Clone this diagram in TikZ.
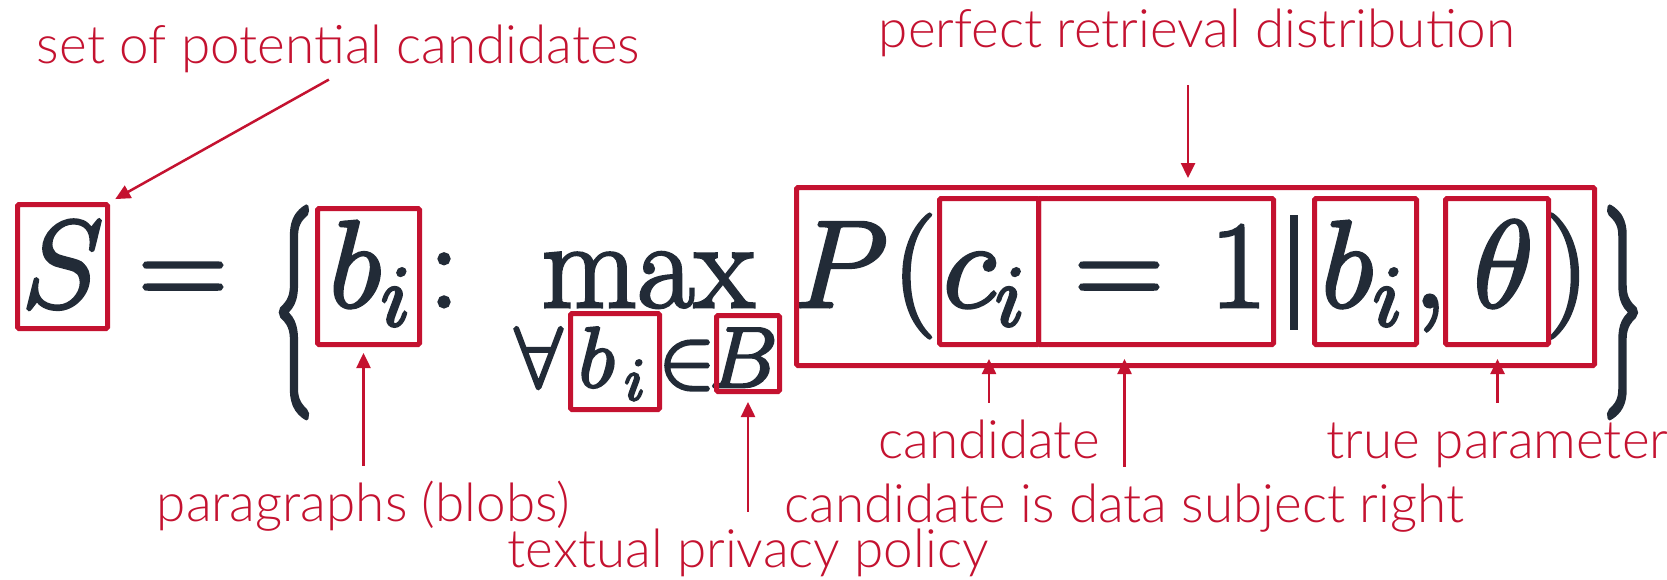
\RequirePackage{fix-cm}
\documentclass[tikz,border=0pt]{standalone}
\usepackage{graphicx}
\usepackage{fontspec}
\usepackage{tikz}
\usetikzlibrary{arrows.meta}
\usepackage{xcolor}
\newfontfamily\lblfont[UprightFont=* Light]{Lato}
\definecolor{hlred}{HTML}{C41230}
\definecolor{ink}{HTML}{222B37}
% stroke the glyphs too, so they look as heavy as in the slide
\newcommand\heavy[2][3]{\special{pdf:code 2 Tr #1 w}#2\special{pdf:code 0 Tr}}

\begin{document}
\begin{tikzpicture}[
  x=1pt, y=-1pt,
  mth/.style={text=ink, inner sep=0pt, anchor=base, font=\fontsize{124}{124}\selectfont},
  smth/.style={mth, font=\fontsize{86}{86}\selectfont},
  hl/.style={draw=hlred, line width=5pt, rounded corners=1.5pt, inner sep=0pt},
  lbl/.style={text=hlred, inner sep=0pt, anchor=base, text height=37pt, text depth=11pt,
    font=\lblfont\fontsize{53}{53}\selectfont},
  arr/.style={draw=hlred, line width=2.5pt, -{Triangle[width=14pt,length=15pt]}},
  up/.style={arr, shorten <=18pt}
]
  \useasboundingbox (0,0) rectangle (1667,579);

  % the formula
  \node[mth] (S) at (62.5,307) {\heavy{$S$}};
  \node[mth] (eqA) at (183,307) {\heavy{$=$}};
  \node[text=ink, inner sep=0pt] (lbrace) at (294,312.5) {\heavy[0.4]{\resizebox*{44pt}{209pt}{$\big\{$}}};
  \node[mth] (bA) at (370,307) {\heavy{$b_i$}};
  \node[mth] (colon) at (444,307) {\heavy{$:$}};
  \node[mth] (max) at (648,307) {\heavy{$\max$}};
  \node[smth] (forall) at (538.5,387) {\heavy[2.5]{$\forall$}};
  \node[smth] (bB) at (612,387) {\heavy[2.5]{$b_{\,i}$}};
  \node[smth] (elem) at (687,387) {\heavy[2.5]{$\in$}};
  \node[smth] (setB) at (743.5,387) {\heavy[2.5]{$B$}};
  \node[mth] (P) at (840.5,307) {\heavy{$P$}};
  \node[mth] (lpar) at (914.5,307) {\heavy{$($}};
  \node[mth] (ci) at (984,307) {\heavy{$c_i$}};
  \node[mth] (eqB) at (1119,307) {\heavy{$=$}};
  \node[mth] (one) at (1238.5,307) {\heavy{$1$}};
  \node[mth] (bar) at (1294,307) {\rule[-23pt]{8pt}{115pt}};
  \node[mth] (bC) at (1362,307) {\heavy{$b_i$}};
  \node[mth] (comma) at (1430,307) {\heavy{$,$}};
  \node[mth] (theta) at (1503.5,307) {\heavy{$\theta$}};
  \node[mth] (rpar) at (1567,307) {\heavy{$)$}};
  \node[text=ink, inner sep=0pt] (rbrace) at (1622.5,312.5) {\heavy[0.4]{\resizebox*{45pt}{209pt}{$\big\}$}}};

  % highlight boxes
  \node[hl, minimum width=90pt, minimum height=124pt] (boxS) at (62.5,266.5) {};
  \node[hl, minimum width=102pt, minimum height=136pt] (boxbA) at (368.5,276.5) {};
  \node[hl, minimum width=89pt, minimum height=96pt] (boxbB) at (615,361.5) {};
  \node[hl, minimum width=63pt, minimum height=76pt] (boxB) at (748,353.5) {};
  \node[hl, minimum width=798pt, minimum height=178pt] (big) at (1195.5,276.5) {};
  \node[hl, minimum width=99pt, minimum height=146pt] (boxc) at (989,271.5) {};
  \node[hl, minimum width=235pt, minimum height=146pt] (boxone) at (1156,271.5) {};
  \node[hl, minimum width=102pt, minimum height=146pt] (boxbC) at (1365.5,271.5) {};
  \node[hl, minimum width=103pt, minimum height=146pt] (boxth) at (1497,271.5) {};

  % labels
  \node[lbl] (setlbl) at (338.5,63) {set of potential candidates};
  \node[lbl] (perflbl) at (1197,47) {perfect retrieval distribution};
  \node[lbl] (paralbl) at (363.5,521) {paragraphs (blobs)};
  \node[lbl] (privlbl) at (748,567) {textual privacy policy};
  \node[lbl] (candlbl) at (989,458) {candidate};
  \node[lbl] (rightlbl) at (1124.5,522) {candidate is data subject right};
  \node[lbl] (truelbl) at (1497.5,458) {true parameter};
  \coordinate (perftail) at (1188,85);

  % arrows
  \draw[arr, shorten <=11pt, shorten >=6pt] (setlbl.south) -- (boxS.north east);
  \draw[arr, shorten >=7pt] (perftail) -- (perftail |- big.north);
  \draw[up, shorten >=6pt] (paralbl.north) -- (paralbl.north |- boxbA.south);
  \draw[up, shorten >=8pt] (privlbl.north) -- (privlbl.north |- boxB.south);
  \draw[up, shorten >=-9pt] (candlbl.north) -- (candlbl.north |- big.south);
  \draw[up, shorten >=-9pt] (rightlbl.north) -- (rightlbl.north |- big.south);
  \draw[up, shorten >=-9pt] (truelbl.north) -- (truelbl.north |- big.south);
\end{tikzpicture}
\end{document}
